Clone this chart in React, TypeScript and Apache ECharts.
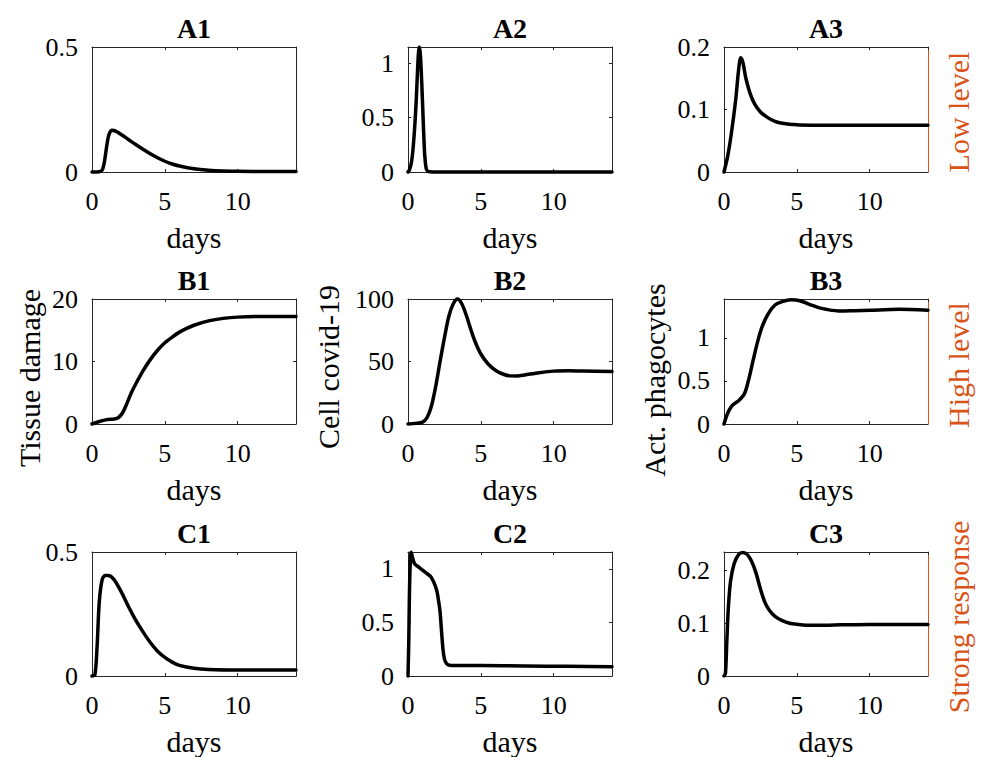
import React, { useEffect, useRef } from "react";
import * as echarts from "echarts";

// ---- Data ----
const a1Days = [0, 0.5, 0.7, 0.85, 1.0, 1.1, 1.2, 1.35, 1.5, 1.7, 2, 2.5, 3, 3.5, 4, 4.5, 5, 5.5, 6, 7, 8, 9, 10, 12, 14];
const a1Values = [0, 0.001, 0.008, 0.04, 0.1, 0.135, 0.155, 0.167, 0.166, 0.161, 0.15, 0.13, 0.11, 0.091, 0.073, 0.057, 0.043, 0.032, 0.024, 0.013, 0.007, 0.004, 0.003, 0.002, 0.002];

const a2Days = [0, 0.1, 0.25, 0.4, 0.55, 0.65, 0.72, 0.78, 0.85, 0.95, 1.05, 1.15, 1.25, 1.35, 1.5, 2, 14];
const a2Values = [0, 0.02, 0.1, 0.3, 0.62, 0.92, 1.1, 1.15, 1.08, 0.8, 0.45, 0.15, 0.03, 0.008, 0.002, 0, 0];

const a3Days = [0, 0.25, 0.5, 0.8, 1.0, 1.15, 1.3, 1.5, 1.8, 2.1, 2.5, 3, 3.5, 4, 5, 6, 8, 10, 14];
const a3Values = [0, 0.025, 0.061, 0.115, 0.163, 0.183, 0.175, 0.15, 0.125, 0.109, 0.096, 0.087, 0.081, 0.078, 0.0755, 0.075, 0.075, 0.075, 0.075];

const b1Days = [0, 0.5, 1, 1.5, 1.8, 2.1, 2.4, 2.7, 3, 3.5, 4, 4.5, 5, 5.5, 6, 6.5, 7, 8, 9, 10, 12, 14];
const b1Values = [0, 0.4, 0.7, 0.8, 1.0, 1.8, 3.3, 5.0, 6.4, 8.5, 10.3, 11.8, 13.0, 13.9, 14.7, 15.3, 15.8, 16.5, 16.9, 17.1, 17.2, 17.2];

const b2Days = [0, 0.5, 1, 1.3, 1.6, 1.9, 2.2, 2.5, 2.8, 3.1, 3.4, 3.7, 4, 4.3, 4.6, 5, 5.5, 6, 6.5, 7, 7.5, 8, 9, 10, 11, 12, 14];
const b2Values = [0, 0.5, 1.5, 5, 14, 30, 50, 69, 86, 96, 100, 96, 87, 76, 66, 56, 48, 43, 40, 38.5, 38.4, 39.2, 41, 42.3, 42.6, 42.4, 42];

const b3Days = [0, 0.15, 0.35, 0.6, 1, 1.4, 1.7, 2, 2.3, 2.6, 3, 3.5, 4, 4.6, 5.2, 6, 6.5, 7, 8, 9, 10, 12, 14];
const b3Values = [0, 0.08, 0.16, 0.22, 0.27, 0.35, 0.52, 0.74, 0.95, 1.12, 1.27, 1.38, 1.42, 1.44, 1.43, 1.38, 1.35, 1.33, 1.31, 1.315, 1.32, 1.33, 1.32];

const c1Days = [0, 0.2, 0.35, 0.5, 0.7, 0.9, 1.1, 1.5, 2, 2.5, 3, 3.5, 4, 4.5, 5, 5.5, 6, 7, 8, 10, 14];
const c1Values = [0, 0.005, 0.12, 0.3, 0.39, 0.405, 0.405, 0.39, 0.34, 0.28, 0.225, 0.178, 0.135, 0.1, 0.075, 0.056, 0.043, 0.031, 0.026, 0.024, 0.024];

const c2Days = [0, 0.05, 0.12, 0.22, 0.32, 0.46, 0.8, 1.26, 1.6, 1.95, 2.1, 2.2, 2.3, 2.4, 2.5, 2.65, 2.85, 3.2, 5, 8, 11, 14];
const c2Values = [0, 0.3, 0.9, 1.155, 1.1, 1.045, 1.01, 0.96, 0.92, 0.81, 0.7, 0.6, 0.42, 0.25, 0.16, 0.115, 0.1, 0.098, 0.097, 0.094, 0.09, 0.087];

const c3Days = [0, 0.1, 0.2, 0.3, 0.45, 0.7, 1, 1.3, 1.6, 1.9, 2.2, 2.5, 2.8, 3.1, 3.5, 4, 4.5, 5, 6, 7, 8, 10, 14];
const c3Values = [0, 0.005, 0.07, 0.13, 0.18, 0.213, 0.23, 0.234, 0.23, 0.217, 0.195, 0.165, 0.14, 0.125, 0.113, 0.105, 0.1, 0.098, 0.096, 0.096, 0.097, 0.0975, 0.0975];

const panelTitles = ["A1", "A2", "A3", "B1", "B2", "B3", "C1", "C2", "C3"];
const panelDays = [a1Days, a2Days, a3Days, b1Days, b2Days, b3Days, c1Days, c2Days, c3Days];
const panelValues = [a1Values, a2Values, a3Values, b1Values, b2Values, b3Values, c1Values, c2Values, c3Values];
const yMaxes = [0.5, 1.15, 0.2, 20, 100, 1.45, 0.5, 1.157, 0.235];
const yIntervals = [0.5, 0.5, 0.1, 10, 50, 0.5, 0.5, 0.5, 0.1];
const xLabel = "days";
const yLabels = ["Tissue damage", "Cell covid-19", "Act. phagocytes"];
const rowLabels = ["Low level", "High level", "Strong response"];

// ---- Layout / style ----
const FONT = "'Liberation Serif', 'Times New Roman', serif";
const AX = "#262626";
const ORANGE = "#D95319";
const colLeft = [92, 408, 724];
const rowTop = [47, 299, 552];
const W = 204;
const H = 125;

export default function App() {
  const ref = useRef<HTMLDivElement>(null);

  useEffect(() => {
    if (!ref.current) return;
    const chart = echarts.init(ref.current, undefined, { renderer: "svg" });

    const grids: any[] = [];
    const xAxes: any[] = [];
    const yAxes: any[] = [];
    const series: any[] = [];
    const titles: any[] = [];
    const graphics: any[] = [];

    for (let i = 0; i < 9; i++) {
      const row = Math.floor(i / 3);
      const col = i % 3;
      grids.push({ left: colLeft[col], top: rowTop[row], width: W, height: H, containLabel: false });
      const tickStyle = { show: true, inside: true, length: 3, lineStyle: { color: AX, width: 1 } };
      const lineStyle = { show: true, onZero: false, lineStyle: { color: AX, width: 1 } };
      xAxes.push({
        gridIndex: i, type: "value", min: 0, max: 14, interval: 5, position: "bottom",
        axisLine: lineStyle, axisTick: tickStyle,
        axisLabel: { show: true, fontFamily: FONT, fontSize: 26, color: "#000", margin: 16, showMaxLabel: false },
        splitLine: { show: false },
        name: xLabel, nameLocation: "middle", nameGap: 50,
        nameTextStyle: { fontFamily: FONT, fontSize: 30, color: "#000" },
      });
      xAxes.push({
        gridIndex: i, type: "value", min: 0, max: 14, interval: 5, position: "top",
        axisLine: lineStyle, axisTick: tickStyle, axisLabel: { show: false }, splitLine: { show: false },
      });
      const yMax = yMaxes[i];
      const yInt = yIntervals[i];
      const maxIsTick = Math.abs(yMax / yInt - Math.round(yMax / yInt)) < 1e-6;
      yAxes.push({
        gridIndex: i, type: "value", min: 0, max: yMax, interval: yInt, position: "left",
        axisLine: lineStyle, axisTick: tickStyle,
        axisLabel: { show: true, fontFamily: FONT, fontSize: 26, color: "#000", margin: 14, showMaxLabel: maxIsTick },
        splitLine: { show: false },
      });
      yAxes.push({
        gridIndex: i, type: "value", min: 0, max: yMax, interval: yInt, position: "right",
        axisLine: col === 2 ? { show: true, onZero: false, lineStyle: { color: ORANGE, width: 1 } } : lineStyle,
        axisTick: col === 2 ? { show: false } : tickStyle,
        axisLabel: { show: false }, splitLine: { show: false },
      });
      const days = panelDays[i];
      const vals = panelValues[i];
      series.push({
        type: "line", xAxisIndex: 2 * i, yAxisIndex: 2 * i,
        data: days.map((d, k) => [d, vals[k]]),
        showSymbol: false, smooth: 0.3, clip: false,
        lineStyle: { color: "#000", width: 3.5, join: "round", cap: "round" },
      });
      titles.push({
        text: panelTitles[i], left: colLeft[col] + W / 2, top: rowTop[row] - 33, textAlign: "center", padding: 0,
        textStyle: { fontFamily: FONT, fontSize: 28, fontWeight: "bold", color: "#000" },
      });
    }

    const yLabelPos = [[29, 378], [328, 367], [654, 380]];
    yLabels.forEach((t, k) => {
      graphics.push({
        type: "text", x: yLabelPos[k][0], y: yLabelPos[k][1], rotation: Math.PI / 2,
        style: { text: t, fontFamily: FONT, fontSize: 30, fill: "#000", align: "center", verticalAlign: "middle" },
      });
    });
    const rowLabelY = [112, 365, 617];
    rowLabels.forEach((t, k) => {
      graphics.push({
        type: "text", x: 958, y: rowLabelY[k], rotation: Math.PI / 2,
        style: { text: t, fontFamily: FONT, fontSize: 30, fill: ORANGE, align: "center", verticalAlign: "middle" },
      });
    });

    chart.setOption({
      animation: false,
      backgroundColor: "#fff",
      title: titles,
      grid: grids,
      xAxis: xAxes,
      yAxis: yAxes,
      series,
      graphic: graphics,
    });
    return () => chart.dispose();
  }, []);

  return <div ref={ref} style={{ position: "fixed", left: 0, top: 0, width: 987, height: 757 }} />;
}
